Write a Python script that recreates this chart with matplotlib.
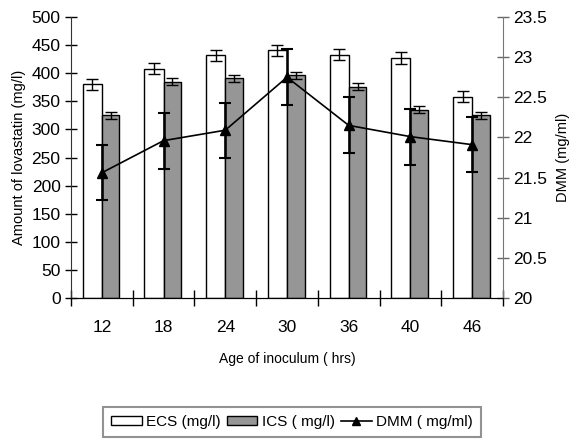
import numpy as np
import matplotlib
matplotlib.use("Agg")
import matplotlib.pyplot as plt
from matplotlib.ticker import FixedLocator, NullFormatter
from matplotlib.patches import Patch
from matplotlib.lines import Line2D

plt.rcParams['font.family'] = ['Liberation Sans', 'DejaVu Sans']

# idade do inóculo (h)
ages = ['12', '18', '24', '30', '36', '40', '46']
ecs = [380, 408, 432, 441, 433, 427, 358]
ecs_err = [10, 10, 10, 10, 10, 10, 10]
ics = [325, 385, 391, 396, 376, 335, 325]
ics_err = [6, 6, 6, 6, 6, 6, 6]
dmm = [21.56, 21.96, 22.09, 22.75, 22.15, 22.01, 21.91]
dmm_err = [0.34, 0.35, 0.34, 0.35, 0.35, 0.35, 0.34]

x = np.arange(len(ages))
w = 0.31

fig = plt.figure(figsize=(5.75, 4.41), dpi=100)
ax = fig.add_axes([71/575, 1-298/441, 432/575, 281/441])

# ECS à esquerda do centro, ICS à direita
ax.bar(x, ecs, width=-w, align='edge', color='white', edgecolor='black', lw=1.0)
ax.bar(x, ics, width=w*0.92, align='edge', color='#969696', edgecolor='black', lw=1.0)
ax.errorbar(x - w/2, ecs, yerr=ecs_err, fmt='none', ecolor='black', elinewidth=1, capsize=4, capthick=1)
ax.errorbar(x + w*0.46, ics, yerr=ics_err, fmt='none', ecolor='black', elinewidth=1, capsize=4, capthick=1)

ax.set_xlim(-0.5, len(x) - 0.5)
ax.set_ylim(0, 500)
ax.set_yticks(np.arange(0, 501, 50))
ax.xaxis.set_major_locator(FixedLocator(np.arange(-0.5, len(x), 1.0)))
ax.xaxis.set_major_formatter(NullFormatter())
ax.xaxis.set_minor_locator(FixedLocator(x))
ax.set_xticklabels(ages, minor=True)
ax.tick_params(axis='x', which='major', direction='inout', length=11, width=1)
ax.tick_params(axis='x', which='minor', length=0, pad=16, labelsize=12.5)
ax.tick_params(axis='y', direction='inout', length=9, width=1, labelsize=12.5, pad=3)
ax.spines['top'].set_visible(False)
ax.spines['right'].set_visible(False)
ax.spines['left'].set_color('#333333')
ax.set_ylabel('Amount of lovastatin (mg/l)', fontsize=10.5, labelpad=4)
ax.set_xlabel('Age of inoculum ( hrs)', fontsize=10, labelpad=12)

ax2 = ax.twinx()
ax2.errorbar(x, dmm, yerr=dmm_err, fmt='-^', color='black', ms=7, lw=1.2,
             elinewidth=1.8, capsize=4, capthick=1.5)
ax2.set_ylim(20, 23.5)
ax2.set_yticks(np.arange(20, 23.51, 0.5))
ax2.set_yticklabels(['20', '20.5', '21', '21.5', '22', '22.5', '23', '23.5'])
ax2.tick_params(axis='y', direction='inout', length=9, width=1, labelsize=12.5, pad=3, color='#666666')
ax2.spines['top'].set_visible(False)
ax2.spines['left'].set_visible(False)
ax2.spines['right'].set_color('#777777')
ax2.set_ylabel('DMM (mg/ml)', fontsize=10.5, labelpad=6)

handles = [Patch(facecolor='white', edgecolor='black', lw=1),
           Patch(facecolor='#969696', edgecolor='black', lw=1),
           Line2D([], [], color='black', marker='^', ms=6, lw=1.2)]
leg = fig.legend(handles, ['ECS (mg/l)', 'ICS ( mg/l)', 'DMM ( mg/ml)'],
                 loc='center', bbox_to_anchor=(292/575, 1-422/441), ncol=3,
                 fontsize=11, frameon=True, fancybox=False, edgecolor='#777777',
                 handlelength=2.0, handleheight=0.6, handletextpad=0.3, columnspacing=0.4,
                 borderpad=0.5)
leg.get_frame().set_linewidth(1.5)

fig.savefig('out.png', dpi=100)
